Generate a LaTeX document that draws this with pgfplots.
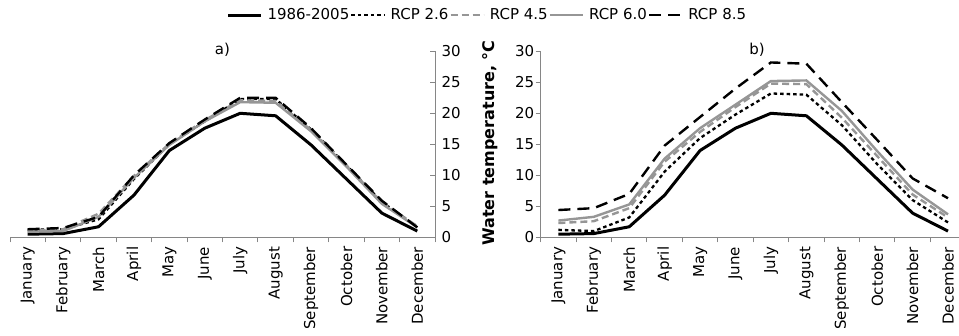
\documentclass[border=0pt]{standalone}
\usepackage{fontspec}
\setmainfont{DejaVu Sans}
\usepackage{pgfplots}
\pgfplotsset{compat=1.18}
\usepackage{pgfplotstable}

\definecolor{lgray}{RGB}{150,150,150}
\definecolor{axgray}{RGB}{134,134,134}

\pgfplotstableread{
m  b    r26  r45  r60  r85
0  0.5  1.2  1.0  0.9  1.3
1  0.6  1.3  1.3  1.0  1.5
2  1.7  2.9  3.8  3.3  3.3
3  6.8  9.4  9.9  9.6  10.0
4  14.0 15.0 15.1 14.9 15.2
5  17.6 18.7 18.9 18.7 19.0
6  20.0 22.3 22.1 21.8 22.5
7  19.6 22.3 22.0 21.7 22.5
8  14.9 17.4 17.3 17.1 17.6
9  9.4  11.6 11.6 11.4 11.7
10 3.9  5.7  5.6  5.4  5.9
11 1.0  1.7  1.8  1.6  1.6
}\dataA

\pgfplotstableread{
m  b    r26  r45  r60  r85
0  0.5  1.2  2.3  2.7  4.4
1  0.6  1.0  2.6  3.3  4.7
2  1.7  3.2  4.7  5.3  7.0
3  6.8  10.6 12.2 12.7 14.8
4  14.0 16.0 17.0 17.6 19.4
5  17.6 19.8 21.0 21.4 24.0
6  20.0 23.2 24.8 25.2 28.2
7  19.6 23.0 24.7 25.3 28.0
8  14.9 18.1 19.3 20.4 21.8
9  9.4  11.8 13.1 13.9 15.7
10 3.9  6.0  6.9  7.7  9.5
11 1.0  2.4  3.2  3.7  6.3
}\dataB

\pgfplotsset{
  panel/.style={
    scale only axis, height=186pt,
    ymin=0, ymax=30,
    xmin=-0.5,
    xtick={0,...,11},
    xticklabels={January,February,March,April,May,June,July,August,September,October,November,December},
    major x tick style={draw=none},
    minor xtick={-0.5,0.5,...,11.5},
    minor tick length=5pt,
    minor x tick style={yshift=-5pt},
    major tick length=5pt,
    ytick={0,5,...,30},
    axis x line*=bottom,
    axis line style={axgray, line width=1pt},
    tick style={axgray, line width=1pt},
    /pgf/number format/assume math mode=true,
    tick label style={font=\fontsize{15}{18}\selectfont, text=black},
    xticklabel style={rotate=90, anchor=east},
    xticklabel shift=6pt,
    clip=false,
  },
  s0/.style={black, line width=3pt},
  s1/.style={black, line width=2.3pt, dash pattern=on 3.5pt off 3pt},
  s2/.style={lgray, line width=2.4pt, dash pattern=on 7pt off 4pt},
  s3/.style={lgray, line width=2.4pt},
  s4/.style={black, line width=2.4pt, dash pattern=on 12pt off 7pt},
}

\begin{document}
\begin{tikzpicture}[font=\fontsize{15}{18}\selectfont]
\path[use as bounding box] (0pt,0pt) rectangle (959pt,335pt);

\begin{axis}[panel,
  at={(10pt,97.7pt)}, anchor=south west,
  width=425pt, xmax=11.5,
  axis y line*=right,
  yticklabel style={anchor=west, xshift=3pt},
  legend columns=5,
  legend style={at={(1.122,1.195)}, anchor=center, draw=none, fill=none,
    font=\fontsize{15}{18}\selectfont,
    nodes={inner sep=1pt},
    /tikz/every odd column/.style={column sep=4pt}},
  legend image code/.code={\draw[#1] (0pt,0pt) -- (33pt,0pt);},
]
\addplot[s0] table[x=m,y=b] {\dataA}; \addlegendentry{1986-2005}
\addplot[s1] table[x=m,y=r26] {\dataA}; \addlegendentry{RCP 2.6}
\addplot[s2] table[x=m,y=r45] {\dataA}; \addlegendentry{RCP 4.5}
\addplot[s3] table[x=m,y=r60] {\dataA}; \addlegendentry{RCP 6.0}
\addplot[s4] table[x=m,y=r85] {\dataA}; \addlegendentry{RCP 8.5}
\node at (axis description cs:0.5,1.007) {a)};
\end{axis}

\begin{axis}[panel,
  at={(540.7pt,97.7pt)}, anchor=south west,
  width=418.3pt, xmax=11.31,
  axis y line*=left,
  major y tick style={xshift=-5pt},
  yticklabel style={anchor=east, xshift=-3pt},
]
\addplot[s0] table[x=m,y=b] {\dataB};
\addplot[s1] table[x=m,y=r26] {\dataB};
\addplot[s2] table[x=m,y=r45] {\dataB};
\addplot[s3] table[x=m,y=r60] {\dataB};
\addplot[s4] table[x=m,y=r85] {\dataB};
\node at (axis description cs:0.517,1.007) {b)};
\end{axis}

\node[rotate=90, font=\fontsize{16}{19}\selectfont\bfseries] at (490pt,192pt) {Water temperature, °C};
\end{tikzpicture}
\end{document}
